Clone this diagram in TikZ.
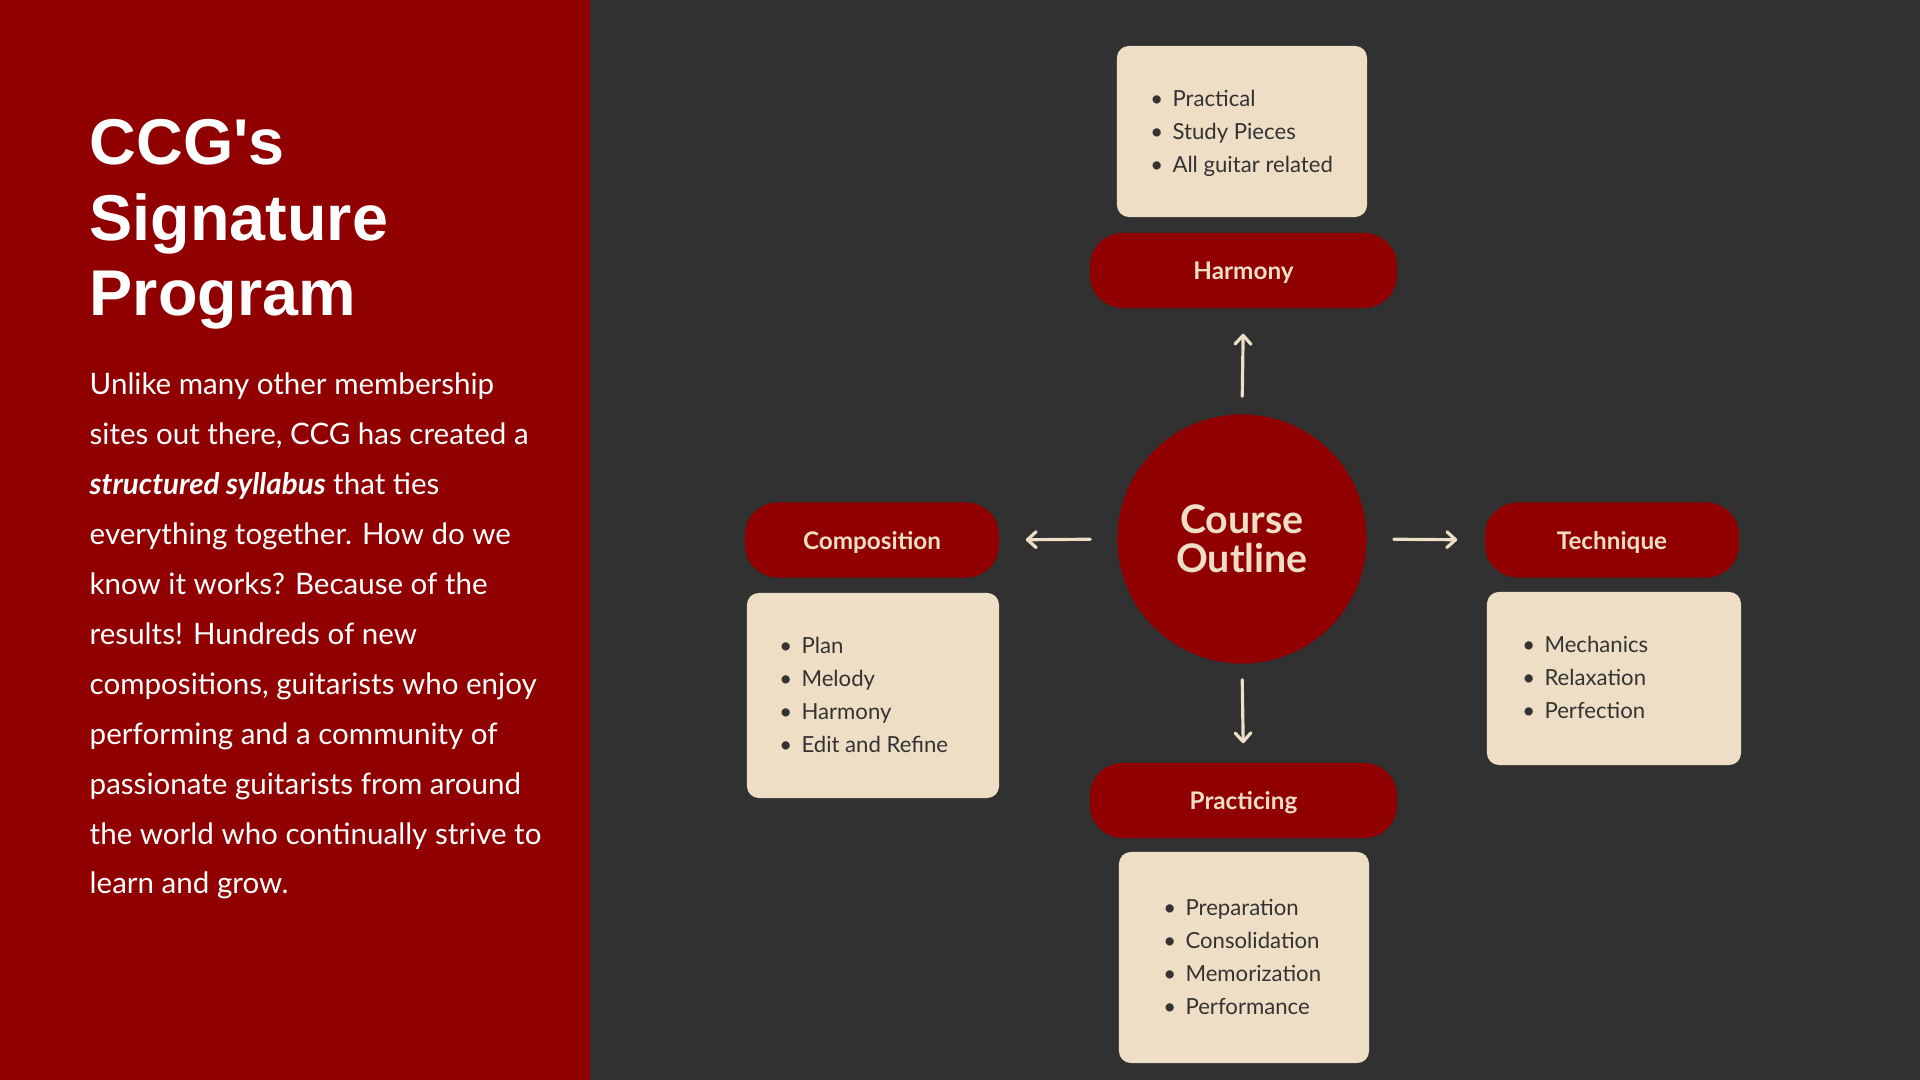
\documentclass[tikz,border=0pt]{standalone}
\usepackage{fontspec}
\setmainfont{Lato}
\newfontfamily\titlefont{Liberation Sans}
\usetikzlibrary{arrows.meta, positioning}
\definecolor{cred}{HTML}{910000}
\definecolor{cdark}{HTML}{313131}
\definecolor{ccream}{HTML}{EEDEC6}
\definecolor{cink}{HTML}{333333}
\newcommand{\itm}[1]{\makebox[0pt][c]{\textbullet}\hspace{4.5pt}#1}
\tikzset{
  pill/.style={fill=cred, rounded corners=0.33cm, minimum width=#1, minimum height=0.75cm,
    text depth=0pt, text=ccream, font=\fontsize{6.9pt}{8pt}\selectfont\bfseries},
  pill/.default=3.07cm,
  card/.style={fill=ccream, rounded corners=0.12cm, minimum width=2.5cm, minimum height=#1},
  list/.style={anchor=base west, inner sep=0pt, align=left, text=cink,
    font=\fontsize{6.3pt}{9.39pt}\selectfont},
  link/.style={-{Straight Barb[length=2.5pt, width=4.5pt, round]}, draw=ccream,
    line width=0.9pt, line cap=round},
}

\begin{document}
\begin{tikzpicture}[x=0.01cm, y=-0.01cm,
                    hub/.style={circle, fill=cred, minimum size=2.49cm, inner sep=0pt, align=center,
                      text=ccream, font=\fontsize{11.2pt}{11.1pt}\selectfont\bfseries}]
  \useasboundingbox (0,0) rectangle (1920,1080);
  % background panels
  \fill[cdark] (0,0) rectangle (1920,1080);
  \fill[cred] (0,0) rectangle (590,1080);
  % left column (base = last line)
  \node[anchor=base west, inner sep=0pt, align=left, text=white,
        font=\titlefont\fontsize{18.4pt}{21.5pt}\selectfont\bfseries] (title) at (89,316)
        {CCG's\\Signature\\Program};
  \node[anchor=base west, inner sep=0pt, align=left, text=white,
        font=\fontsize{8.4pt}{14.2pt}\selectfont] (blurb) at (89,894)
        {Unlike many other membership\\sites out there, CCG has created a\\
         \textbf{\textit{structured syllabus}} that ties\\everything together. How do we\\
         know it works? Because of the\\results! Hundreds of new\\
         compositions, guitarists who enjoy\\performing and a community of\\
         passionate guitarists from around\\the world who continually strive to\\
         learn and grow.};
  % hub and branches
  \node[hub] (co) at (1242,539) {Course\\Outline};
  \node[pill] (harm) at (1243.5,270.5) {Harmony};
  \node[pill=2.54cm] (comp) at (872,540) {Composition};
  \node[pill=2.54cm] (tech) at (1612,540) {Technique};
  \node[pill] (prac) at (1243.5,800.5) {Practicing};
  % cards
  \node[card=1.71cm] (harmcard) at (1242,131.5) {};
  \node[card=2.05cm, minimum width=2.52cm] (compcard) at (873,695.5) {};
  \node[card=1.73cm, minimum width=2.54cm] (techcard) at (1614,678.5) {};
  \node[card=2.11cm] (praccard) at (1244,957.5) {};
  \node[list] (harmlist) at (1156,173) {\itm{Practical}\\\itm{Study Pieces}\\\itm{All guitar related}};
  \node[list] (complist) at (785,753) {\itm{Plan}\\\itm{Melody}\\\itm{Harmony}\\\itm{Edit and Refine}};
  \node[list] (techlist) at (1528,719) {\itm{Mechanics}\\\itm{Relaxation}\\\itm{Perfection}};
  \node[list] (praclist) at (1169,1015) {\itm{Preparation}\\\itm{Consolidation}\\\itm{Memorization}\\\itm{Performance}};
  % arrows
  \draw[link, shorten <=0.175cm, shorten >=0.25cm] (co.north) -- (harm.south);
  \draw[link, shorten <=0.265cm, shorten >=0.26cm] (co.west) -- (comp.east);
  \draw[link, shorten <=0.265cm, shorten >=0.27cm] (co.east) -- (tech.west);
  \draw[link, shorten <=0.155cm, shorten >=0.19cm] (co.south) -- (prac.north);
\end{tikzpicture}
\end{document}
